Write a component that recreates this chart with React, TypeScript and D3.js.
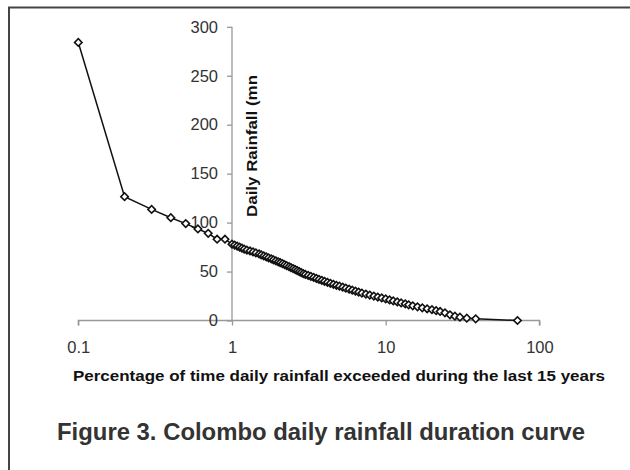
import React, { useEffect, useRef } from "react";
import * as d3 from "d3";

// percentage of time exceeded (x) and daily rainfall in mm (y)
const pctExceeded = [
  0.1, 0.2, 0.3, 0.4, 0.5, 0.6, 0.7, 0.8, 0.9, 1.0,
  1.04, 1.08, 1.12, 1.16, 1.2, 1.25, 1.31, 1.37, 1.43, 1.5,
  1.55, 1.61, 1.67, 1.73, 1.8, 1.86, 1.93, 2.0, 2.06, 2.13,
  2.2, 2.27, 2.35, 2.42, 2.5, 2.58, 2.66, 2.74, 2.82, 2.91,
  3.0, 3.13, 3.26, 3.4, 3.54, 3.68, 3.84, 4.0, 4.18, 4.37,
  4.57, 4.78, 5.0, 5.25, 5.5, 5.78, 6.06, 6.36, 6.67, 7.0,
  7.43, 7.88, 8.37, 8.88, 9.42, 10.0, 10.6, 11.2, 11.9, 12.6,
  13.4, 14.1, 15.0, 16.1, 17.3, 18.6, 20.0, 21.3, 22.6, 24.3,
  26.2, 28.2, 30.4, 33.7, 38.5, 72.0,
];
const rainfallMm = [
  284, 126.5, 113.5, 105, 99, 93.5, 89, 83, 83, 78,
  77, 76, 75, 74, 73, 72, 71, 70, 69, 68,
  67, 66, 65, 64, 63, 62, 61, 60, 59, 58,
  57, 56, 55, 54, 53, 52, 51, 50, 49, 48,
  47, 46, 45, 44, 43, 42, 41, 40, 39, 38,
  37, 36, 35, 34, 33, 32, 31, 30, 29, 28,
  27, 26, 25, 24, 23, 22, 21, 20, 19, 18,
  17, 16, 15, 14, 13, 12, 11, 10, 9.2, 7.9,
  5.8, 4.4, 3.4, 2.4, 1.7, 0,
];
const xTicks = [0.1, 1, 10, 100];
const yTicks = [0, 50, 100, 150, 200, 250, 300];

const xTitle = "Percentage of time daily rainfall exceeded during the last 15 years";
const yTitle = "Daily Rainfall (mn";
const caption = "Figure 3. Colombo daily rainfall duration curve";

const FONT = "'Liberation Sans', Arial, Helvetica, sans-serif";

const App: React.FC = () => {
  const svgRef = useRef<SVGSVGElement>(null);

  useEffect(() => {
    const svg = d3.select(svgRef.current);
    svg.selectAll("*").remove();

    // frame around the figure
    svg
      .append("rect")
      .attr("x", 9)
      .attr("y", 7.5)
      .attr("width", 700)
      .attr("height", 700)
      .attr("fill", "white")
      .attr("stroke", "#444")
      .attr("stroke-width", 2);

    const x = d3.scaleLog().domain([0.1, 100]).range([78.3, 539.4]);
    const y = d3.scaleLinear().domain([0, 300]).range([320.5, 26.8]);

    // x axis along y = 0
    const gx = svg
      .append("g")
      .attr("transform", `translate(0,${y(0)})`)
      .call(
        d3
          .axisBottom(x)
          .tickValues(xTicks)
          .tickSize(5)
          .tickPadding(16)
          .tickFormat((d) => String(d))
      );

    // y axis crossing at x = 1
    const gy = svg
      .append("g")
      .attr("transform", `translate(${x(1)},0)`)
      .call(d3.axisLeft(y).tickValues(yTicks).tickSize(5).tickPadding(9));

    [gx, gy].forEach((g) => {
      g.select(".domain").attr("stroke", "#999").attr("stroke-width", 1.3);
      g.selectAll(".tick line").attr("stroke", "#999").attr("stroke-width", 1.3);
      g.selectAll(".tick text")
        .attr("fill", "#333")
        .style("font-family", FONT)
        .style("font-size", "16.5px");
    });
    gx.select(".domain").attr("d", `M${x(0.1)},5V0H${x(100)}V5`);
    gy.select(".domain").attr("d", `M0,${y(300)}V${y(0)}`);

    // axis titles
    svg
      .append("text")
      .attr("x", 339)
      .attr("y", 381)
      .attr("text-anchor", "middle")
      .attr("fill", "#111")
      .style("font-family", FONT)
      .style("font-weight", "bold")
      .style("font-size", "14px")
      .attr("textLength", 532)
      .attr("lengthAdjust", "spacingAndGlyphs")
      .text(xTitle);

    svg
      .append("text")
      .attr("transform", "translate(256.7,217) rotate(-90)")
      .attr("fill", "#111")
      .style("font-family", FONT)
      .style("font-weight", "bold")
      .style("font-size", "14.5px")
      .attr("textLength", 142)
      .attr("lengthAdjust", "spacingAndGlyphs")
      .text(yTitle);

    svg
      .append("text")
      .attr("x", 321)
      .attr("y", 440)
      .attr("text-anchor", "middle")
      .attr("fill", "#333")
      .style("font-family", FONT)
      .style("font-weight", "bold")
      .style("font-size", "23px")
      .attr("textLength", 528)
      .attr("lengthAdjust", "spacingAndGlyphs")
      .text(caption);

    // duration curve
    const data = pctExceeded.map((p, i) => ({ p, mm: rainfallMm[i] }));
    const line = d3
      .line<{ p: number; mm: number }>()
      .x((d) => x(d.p))
      .y((d) => y(d.mm));

    svg
      .append("path")
      .datum(data)
      .attr("d", line)
      .attr("fill", "none")
      .attr("stroke", "#111")
      .attr("stroke-width", 1.5);

    const diamond = d3.symbol().type(d3.symbolSquare).size(28);
    svg
      .append("g")
      .selectAll("path")
      .data(data)
      .enter()
      .append("path")
      .attr("d", diamond)
      .attr("transform", (d) => `translate(${x(d.p)},${y(d.mm)}) rotate(45)`)
      .attr("fill", "white")
      .attr("stroke", "#111")
      .attr("stroke-width", 1.6);
  }, []);

  return (
    <svg
      ref={svgRef}
      width={630}
      height={470}
      style={{ position: "absolute", left: 0, top: 0, background: "white" }}
    ></svg>
  );
};

export default App;
